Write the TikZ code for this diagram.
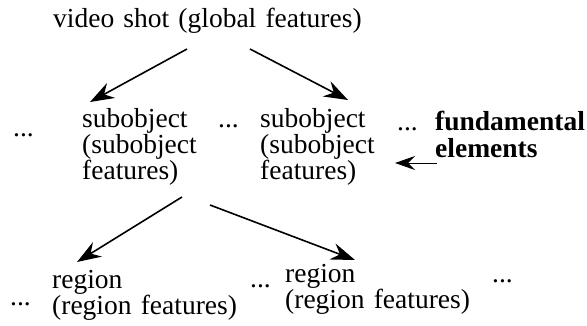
\documentclass[tikz,border=0pt]{standalone}
\usepackage{fontspec}
\setmainfont{Liberation Serif}
\usetikzlibrary{arrows.meta,calc}
\begin{document}
\begin{tikzpicture}[x=1pt,y=-1pt,
  lbl/.style={anchor=base west,inner sep=0pt,text width=330pt,align=left,
    font=\fontsize{27.5}{26}\selectfont},
  dots/.style={anchor=base west,inner sep=0pt,font=\fontsize{27.5}{26}\selectfont},
  arr/.style={line width=1.6pt,-{Stealth[length=24pt,width=17pt,inset=8pt]}}]
  \useasboundingbox (0,0) rectangle (587,325);

  % top level
  \node[lbl] (shot) at (53,27) {video shot (global features)};

  % subobject level
  \node[dots] (d1) at (13,136) {...};
  \node[lbl] (sub1) at (82,127) {subobject\\(subobject\\features)};
  \node[dots] (d2) at (218,127) {...};
  \node[lbl] (sub2) at (260,127) {subobject\\(subobject\\features)};
  \node[dots] (d3) at (397,130) {...};
  \node[lbl,font=\fontsize{27.5}{27}\selectfont\bfseries] (fund) at (435,130) {fundamental\\elements};

  % region level
  \node[dots] (d4) at (10,305) {...};
  \node[lbl] (reg1) at (52,288) {region\\(region features)};
  \node[dots] (d5) at (250,287) {...};
  \node[lbl] (reg2) at (285,282) {region\\(region features)};
  \node[dots] (d6) at (492,282) {...};

  % connectors
  \draw[arr] ($(shot.base west)+(134,22)$) -- ($(sub1.base west)+(8,-25)$);
  \draw[arr] ($(shot.base west)+(197,22)$) -- ($(sub2.base west)+(88,-27)$);
  \draw[arr] ($(sub1.base west)+(100,70)$) -- ($(reg1.base west)+(25,-26)$);
  \draw[arr] ($(sub1.base west)+(128,78)$) -- ($(reg2.base west)+(70,-22)$);
  \draw[arr,line width=1pt,-{Stealth[length=20pt,width=14pt,inset=7pt]}]
    ($(fund.base west)+(2,33)$) -- ($(fund.base west)+(-40,33)$);
\end{tikzpicture}
\end{document}
